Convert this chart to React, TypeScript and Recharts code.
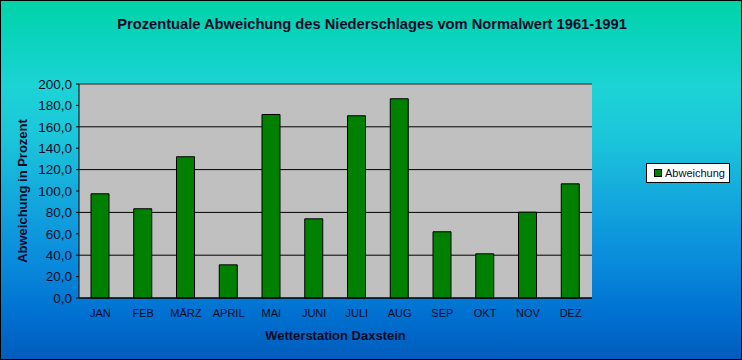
import { BarChart, Bar, XAxis, YAxis, CartesianGrid, ReferenceLine, Legend, Label } from "recharts";

const MONTHS = ["JAN", "FEB", "MÄRZ", "APRIL", "MAI", "JUNI", "JULI", "AUG", "SEP", "OKT", "NOV", "DEZ"];
const ABWEICHUNG = [97.4, 83.4, 132.0, 31.0, 171.5, 74.0, 170.3, 186.2, 61.9, 41.3, 80.2, 106.7];
const Y_TICKS = [0, 20, 40, 60, 80, 100, 120, 140, 160, 180, 200];
const Y_MINOR = Array.from({ length: 51 }, (_, i) => i * 4);
const X_BOUNDS = MONTHS.map((_, i) => i).concat(MONTHS.length);

const TEXT = "#0a0a28";
const FONT = "Arial, 'Liberation Sans', sans-serif";

const data = MONTHS.map((monat, i) => ({ monat, wert: ABWEICHUNG[i] }));

const fmt = (v: number) => v.toFixed(1).replace(".", ",");

function LegendBox() {
  return (
    <div
      style={{
        width: 84,
        height: 20,
        boxSizing: "border-box",
        background: "#fff",
        border: "1px solid #000",
        display: "flex",
        alignItems: "center",
        fontFamily: FONT,
        fontSize: 11,
        color: TEXT,
      }}
    >
      <span style={{ width: 6, height: 6, background: "#008000", border: "1px solid #000", marginLeft: 7, marginRight: 3 }} />
      Abweichung
    </div>
  );
}

export default function App() {
  return (
    <div
      style={{
        position: "absolute",
        left: 0,
        top: 0,
        width: 742,
        height: 360,
        boxSizing: "border-box",
        border: "1px solid #000",
        background:
          "linear-gradient(to bottom, #00d3a8 0%, #0cd3c0 12%, #1dd3d6 24%, #1bc6da 38%, #14a8dc 55%, #0a8cdc 72%, #0070d0 88%, #005cbc 100%)",
        fontFamily: FONT,
      }}
    >
      <div
        style={{
          position: "absolute",
          left: 0,
          top: 15,
          width: 742,
          textAlign: "center",
          fontSize: 14.7,
          fontWeight: "bold",
          color: TEXT,
        }}
      >
        Prozentuale Abweichung des Niederschlages vom Normalwert 1961-1991
      </div>
      <div style={{ position: "absolute", left: -1, top: -1 }}>
        <BarChart width={742} height={360} data={data} margin={{ top: 84, right: 150, bottom: 16, left: 19 }}>
          <CartesianGrid fill="#c0c0c0" fillOpacity={1} stroke="#000" vertical={false} />
          <XAxis
            xAxisId="b"
            type="number"
            domain={[0, MONTHS.length]}
            ticks={X_BOUNDS}
            tickFormatter={() => ""}
            tickSize={4}
            axisLine={false}
            tickLine={{ stroke: "#000" }}
            height={0}
          />
          <XAxis
            dataKey="monat"
            interval={0}
            height={46}
            tickLine={false}
            tickSize={4}
            tickMargin={7}
            axisLine={{ stroke: "#000" }}
            tick={{ fontSize: 11, fill: TEXT, fontFamily: FONT }}
          >
            <Label
              value="Wetterstation Daxstein"
              position="insideBottom"
              offset={4}
              style={{ fontSize: 13, fontWeight: "bold", fill: TEXT, fontFamily: FONT }}
            />
          </XAxis>
          <YAxis
            domain={[0, 200]}
            ticks={Y_TICKS}
            tickFormatter={fmt}
            width={60}
            tickSize={3}
            tickMargin={4}
            axisLine={{ stroke: "#000" }}
            tickLine={{ stroke: "#000" }}
            tick={{ fontSize: 13.5, fill: TEXT, fontFamily: FONT }}
          >
            <Label
              value="Abweichung in Prozent"
              angle={-90}
              position="insideLeft"
              offset={3}
              style={{ textAnchor: "middle", fontSize: 13, fontWeight: "bold", fill: TEXT, fontFamily: FONT }}
            />
          </YAxis>
          <YAxis
            yAxisId="minor"
            mirror
            domain={[0, 200]}
            ticks={Y_MINOR}
            tickFormatter={() => ""}
            tickSize={2}
            axisLine={false}
            tickLine={{ stroke: "#000" }}
          />
          <YAxis yAxisId="r" orientation="right" domain={[0, 200]} tick={false} width={0} axisLine={{ stroke: "#808080" }} />
          <ReferenceLine y={200} stroke="#808080" />
          <Bar dataKey="wert" name="Abweichung" fill="#008000" stroke="#000" strokeWidth={1} barSize={18} isAnimationActive={false} />
          <Legend
            layout="vertical"
            align="center"
            verticalAlign="middle"
            content={() => <LegendBox />}
            wrapperStyle={{ left: 646, top: 163, width: 84, height: 20 }}
          />
        </BarChart>
      </div>
    </div>
  );
}
